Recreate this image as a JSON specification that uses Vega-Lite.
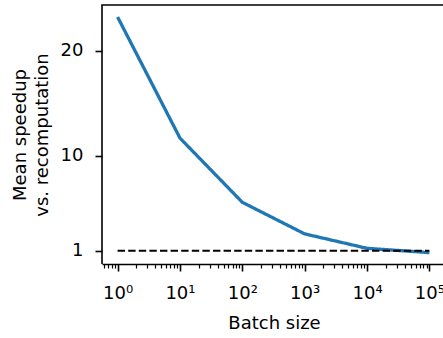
{
  "$schema": "https://vega.github.io/schema/vega-lite/v6.json",
  "width": 343,
  "height": 259,
  "autosize": {"type": "none"},
  "padding": {"left": 102, "top": 5, "right": -2, "bottom": 74},
  "config": {
    "view": {"stroke": "#000000", "strokeWidth": 1.6, "strokeDash": [343, 602, 260, 3000]},
    "font": "DejaVu Sans",
    "axis": {
      "grid": false,
      "domainColor": "#000000",
      "domainWidth": 1.6,
      "tickColor": "#000000",
      "labelColor": "#000000",
      "titleColor": "#000000",
      "labelFont": "DejaVu Sans",
      "titleFont": "DejaVu Sans",
      "labelFontSize": 18,
      "titleFontSize": 18,
      "titleFontWeight": "normal",
      "labelFlush": false,
      "labelBound": false,
      "labelOverlap": false
    }
  },
  "data": {
    "values": [
      {"series": "measured", "batch_size": 1, "speedup": 23.2},
      {"series": "measured", "batch_size": 10, "speedup": 11.7},
      {"series": "measured", "batch_size": 100, "speedup": 5.6},
      {"series": "measured", "batch_size": 1000, "speedup": 2.6},
      {"series": "measured", "batch_size": 10000, "speedup": 1.23},
      {"series": "measured", "batch_size": 100000, "speedup": 0.82},
      {"series": "baseline", "batch_size": 1, "speedup": 1},
      {"series": "baseline", "batch_size": 100000, "speedup": 1}
    ]
  },
  "mark": {"type": "line", "strokeCap": "butt"},
  "encoding": {
    "x": {
      "field": "batch_size",
      "type": "quantitative",
      "scale": {"type": "log", "domain": [0.5623, 177828], "nice": false},
      "axis": {
        "orient": "bottom",
        "title": "Batch size",
        "titleX": 172,
        "titleY": 64.5,
        "titleAlign": "center",
        "titleBaseline": "alphabetic",
        "values": [0.6, 0.7, 0.8, 0.9, 1, 2, 3, 4, 5, 6, 7, 8, 9, 10, 20, 30, 40, 50, 60, 70, 80, 90, 100, 200, 300, 400, 500, 600, 700, 800, 900, 1000, 2000, 3000, 4000, 5000, 6000, 7000, 8000, 9000, 10000, 20000, 30000, 40000, 50000, 60000, 70000, 80000, 90000, 100000],
        "labelExpr": "datum.value == pow(10, round(log(datum.value)/LN10)) ? '10' + ['⁰','¹','²','³','⁴','⁵'][round(log(datum.value)/LN10)] : ''",
        "labelBaseline": "alphabetic",
        "labelAlign": "center",
        "labelPadding": 27,
        "tickSize": {"condition": {"test": "datum.value == pow(10, round(log(datum.value)/LN10))", "value": 7}, "value": 4},
        "tickWidth": {"condition": {"test": "datum.value == pow(10, round(log(datum.value)/LN10))", "value": 1.6}, "value": 1.2}
      }
    },
    "y": {
      "field": "speedup",
      "type": "quantitative",
      "scale": {"domain": [-0.26, 24.34], "nice": false, "zero": false},
      "axis": {
        "orient": "left",
        "domain": false,
        "values": [1, 10, 20],
        "tickSize": 7,
        "tickWidth": 1.6,
        "labelPadding": 12,
        "labelBaseline": "middle",
        "title": ["Mean speedup", "vs. recomputation"],
        "titleAngle": 270,
        "titleX": -77,
        "titleY": 129.5,
        "titleAlign": "center",
        "titleBaseline": "alphabetic",
        "titleLineHeight": 22
      }
    },
    "color": {
      "field": "series",
      "type": "nominal",
      "scale": {"domain": ["measured", "baseline"], "range": ["#1f77b4", "#000000"]},
      "legend": null
    },
    "strokeDash": {
      "field": "series",
      "type": "nominal",
      "scale": {"domain": ["measured", "baseline"], "range": [[1, 0], [7.4, 3.2]]},
      "legend": null
    },
    "strokeWidth": {
      "field": "series",
      "type": "nominal",
      "scale": {"type": "ordinal", "domain": ["measured", "baseline"], "range": [3.3, 2.1]},
      "legend": null
    }
  }
}
